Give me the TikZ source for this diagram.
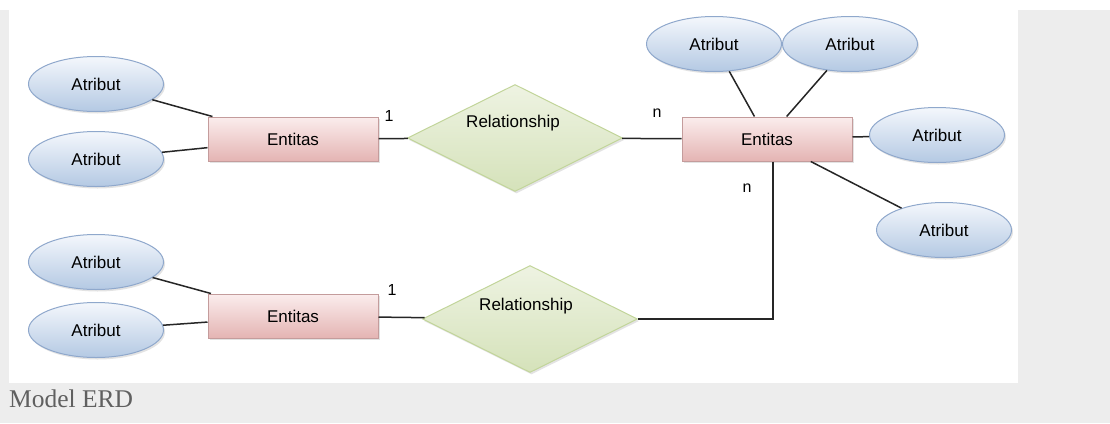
\documentclass[tikz,border=0pt]{standalone}
\usepackage{fontspec}
\setmainfont{Liberation Sans}
\newfontfamily\capfont{Liberation Serif}
\usetikzlibrary{shapes.geometric,shadows}
\definecolor{pagegrey}{HTML}{EDEDED}
\definecolor{attrtop}{HTML}{F4F7FC}
\definecolor{attrbot}{HTML}{B4C9E3}
\definecolor{attrline}{HTML}{8FA8CC}
\definecolor{enttop}{HTML}{FBEDED}
\definecolor{entbot}{HTML}{E4B4B3}
\definecolor{entline}{HTML}{C49C9C}
\definecolor{reltop}{HTML}{EEF3E2}
\definecolor{relbot}{HTML}{D5E2BA}
\definecolor{relline}{HTML}{C2D59A}
\definecolor{captext}{HTML}{606060}
\definecolor{wire}{HTML}{262626}
\tikzset{
  shade/.style={drop shadow={opacity=0.22,shadow xshift=1.5pt,shadow yshift=-2pt}},
  attr/.style={ellipse,draw=attrline,line width=1pt,top color=attrtop,bottom color=attrbot,
    minimum width=135pt,minimum height=55pt,inner sep=0pt,font=\fontsize{17}{20}\selectfont,shade},
  ent/.style={rectangle,draw=entline,line width=1pt,top color=enttop,bottom color=entbot,
    minimum width=170pt,minimum height=44pt,inner sep=0pt,font=\fontsize{17}{20}\selectfont,shade},
  rel/.style={diamond,draw=relline,line width=1pt,top color=reltop,bottom color=relbot,
    minimum width=215pt,minimum height=107pt,inner sep=0pt,shade},
  reltext/.style={font=\fontsize{17}{20}\selectfont,inner sep=0pt},
  card/.style={font=\fontsize{16}{19}\selectfont,inner sep=0pt},
  wireline/.style={draw=wire,line width=1.5pt},
}
\begin{document}
\begin{tikzpicture}[x=1pt,y=-1pt]
\useasboundingbox (0,0) rectangle (1110,423);
\fill[white] (0,0) rectangle (1110,423);
\fill[pagegrey] (0,10) rectangle (1110,423);
\fill[white] (9,0) rectangle (1018,383);
% caption
\node[anchor=base west,inner sep=0pt,text=captext,font=\capfont\fontsize{25.5}{30}\selectfont] (cap) at (9,407) {Model ERD};
% top left group
\node[attr] (a1) at (96,84) {Atribut};
\node[attr] (a2) at (96,159) {Atribut};
\node[ent] (e1) at (293,139) {Entitas};
\node[rel] (d1) at (515,138) {};
\node[reltext] (d1t) at (513,123) {Relationship};
% right entity group
\node[attr] (a3) at (714,44) {Atribut};
\node[attr] (a4) at (850,44) {Atribut};
\node[attr] (a5) at (937,135) {Atribut};
\node[attr] (a6) at (944,230) {Atribut};
\node[ent] (e2) at (767,139) {Entitas};
% bottom group
\node[attr] (a7) at (96,262) {Atribut};
\node[attr] (a8) at (96,330) {Atribut};
\node[ent] (e3) at (293,316) {Entitas};
\node[rel] (d2) at (530,319) {};
\node[reltext] (d2t) at (526,306) {Relationship};
% cardinalities
\node[card] (c1) at (389,116) {1};
\node[card] (c2) at (657,113) {n};
\node[card] (c3) at (747,188) {n};
\node[card] (c4) at (392,290) {1};
% connectors
\draw[wireline] (a1) -- (e1);
\draw[wireline] (a2) -- (e1);
\draw[wireline] (e1) -- (d1);
\draw[wireline] (d1) -- (e2);
\draw[wireline] (a3) -- (e2);
\draw[wireline] (a4) -- (e2);
\draw[wireline] (a5) -- (e2);
\draw[wireline] (a6) -- (e2);
\draw[wireline] (a7) -- (e3);
\draw[wireline] (a8) -- (e3);
\draw[wireline] (e3) -- (d2);
\draw[wireline] ([xshift=6pt]e2.south) |- (d2.east);
\end{tikzpicture}
\end{document}
